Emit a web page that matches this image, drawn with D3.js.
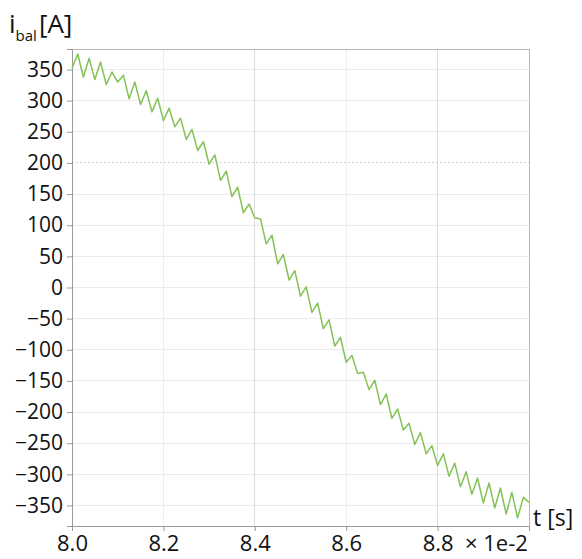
<!DOCTYPE html>
<html>
<head>
<meta charset="utf-8">
<script src="https://cdn.jsdelivr.net/npm/d3@7"></script>
<style>
  html, body { margin: 0; padding: 0; background: #fff; }
  svg { display: block; }
  text { font-family: "Open Sans", "DejaVu Sans", sans-serif; fill: #111; }
</style>
</head>
<body>
<svg id="chart" width="582" height="559"></svg>
<script>
// time in units of 1e-2 s
const times = [
  8.0000, 8.0125, 8.0250, 8.0375, 8.0500, 8.0625, 8.0750, 8.0875, 8.1000, 8.1125,
  8.1250, 8.1375, 8.1500, 8.1625, 8.1750, 8.1875, 8.2000, 8.2125, 8.2250, 8.2375,
  8.2500, 8.2625, 8.2750, 8.2875, 8.3000, 8.3125, 8.3250, 8.3375, 8.3500, 8.3625,
  8.3750, 8.3875, 8.4000, 8.4125, 8.4250, 8.4375, 8.4500, 8.4625, 8.4750, 8.4875,
  8.5000, 8.5125, 8.5250, 8.5375, 8.5500, 8.5625, 8.5750, 8.5875, 8.6000, 8.6125,
  8.6250, 8.6375, 8.6500, 8.6625, 8.6750, 8.6875, 8.7000, 8.7125, 8.7250, 8.7375,
  8.7500, 8.7625, 8.7750, 8.7875, 8.8000, 8.8125, 8.8250, 8.8375, 8.8500, 8.8625,
  8.8750, 8.8875, 8.9000, 8.9125, 8.9250, 8.9375, 8.9500, 8.9625, 8.9750, 8.9875,
  9.0000
];
// i_bal in A
const iBal = [
   352,  375,  338,  368,  334,  362,  326,  346,  330,  341,
   303,  330,  294,  316,  282,  304,  268,  288,  258,  272,
   238,  254,  220,  234,  198,  213,  172,  187,  146,  161,
   120,  134,  112,  110,   70,   84,   38,   53,   12,   27,
   -14,    1,  -40,  -25,  -66,  -52,  -94,  -80, -120, -109,
  -138, -136, -164, -149, -188, -171, -210, -195, -229, -218,
  -252, -233, -267, -254, -286, -267, -303, -282, -320, -296,
  -332, -306, -346, -314, -354, -322, -364, -329, -370, -337,
  -345
];
const xTicks = [8.0, 8.2, 8.4, 8.6, 8.8];
const xTickLabels = ["8.0", "8.2", "8.4", "8.6", "8.8"];
const yTicks = [350, 300, 250, 200, 150, 100, 50, 0, -50, -100, -150, -200, -250, -300, -350];

const svg = d3.select("#chart");
const mLeft = 72, mRight = 529, mTop = 49, mBottom = 526;

const x = d3.scaleLinear().domain([8.0, 9.0]).range([mLeft, mRight]);
const y = d3.scaleLinear().domain([-383, 383]).range([mBottom, mTop]);

// grid
const grid = svg.append("g");
grid.selectAll("line.h").data(yTicks).enter().append("line")
  .attr("x1", mLeft).attr("x2", mRight)
  .attr("y1", d => y(d)).attr("y2", d => y(d))
  .attr("stroke", d => d === 200 ? "#cfcfcf" : "#ececec")
  .attr("stroke-width", 1)
  .attr("stroke-dasharray", d => d === 200 ? "2,2" : null)
  .attr("shape-rendering", "crispEdges");
grid.selectAll("line.v").data(xTicks.filter(d => d > 8.0)).enter().append("line")
  .attr("y1", mTop).attr("y2", mBottom)
  .attr("x1", d => x(d)).attr("x2", d => x(d))
  .attr("stroke", d => (d === 8.4 || d === 8.8) ? "#dcdcdc" : "#eeeeee")
  .attr("stroke-width", 1)
  .attr("shape-rendering", "crispEdges");

// frame (top and right)
svg.append("path")
  .attr("d", `M${mLeft},${mTop}H${mRight}V${mBottom}`)
  .attr("fill", "none").attr("stroke", "#b8b8b8").attr("stroke-width", 1)
  .attr("shape-rendering", "crispEdges");

// axes
const yAxis = d3.axisLeft(y).tickValues(yTicks).tickSize(5).tickPadding(4).tickFormat(d3.format("d"));
const gy = svg.append("g").attr("transform", `translate(${mLeft},0)`).call(yAxis);
gy.select(".domain").attr("stroke", "#9a9a9a");
gy.selectAll(".tick line").attr("stroke", "#9a9a9a");
gy.selectAll(".tick text").attr("font-size", 21).attr("font-family", "Open Sans, DejaVu Sans, sans-serif").attr("fill", "#111");

const xAxis = d3.axisBottom(x).tickValues(xTicks).tickSize(5).tickPadding(4)
  .tickFormat((d, i) => xTickLabels[i]);
const gx = svg.append("g").attr("transform", `translate(0,${mBottom})`).call(xAxis);
gx.select(".domain").attr("stroke", "#9a9a9a");
gx.selectAll(".tick line").attr("stroke", "#9a9a9a");
gx.selectAll(".tick text").attr("font-size", 22).attr("font-family", "Open Sans, DejaVu Sans, sans-serif").attr("fill", "#111");

// line
const line = d3.line().x((d, i) => x(times[i])).y(d => y(d));
svg.append("path")
  .datum(iBal)
  .attr("d", line)
  .attr("fill", "none")
  .attr("stroke", "#84c256")
  .attr("stroke-width", 1.5)
  .attr("stroke-linejoin", "round");

// labels
const yl = svg.append("text").attr("x", 9).attr("y", 33).attr("font-size", 26);
yl.append("tspan").text("i");
yl.append("tspan").attr("font-size", 15).attr("dy", 8).text("bal");
yl.append("tspan").attr("dy", -8).attr("dx", 2).text("[A]");

svg.append("text").attr("x", 533).attr("y", 526).attr("font-size", 23).text("t [s]");
svg.append("text").attr("x", 465).attr("y", 551).attr("font-size", 22).text("× 1e-2");
</script>
</body>
</html>
